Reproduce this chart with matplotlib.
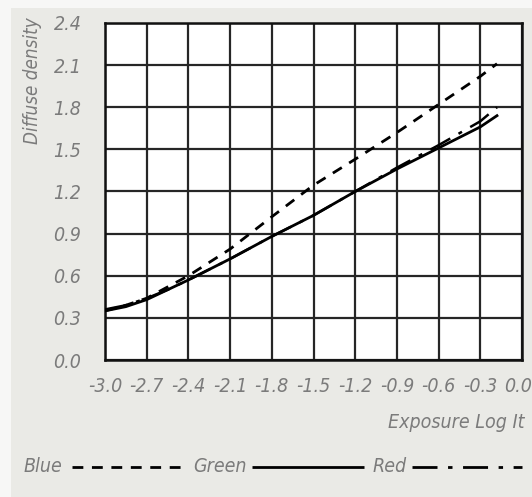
import matplotlib
matplotlib.use("Agg")
import matplotlib.pyplot as plt
import matplotlib.transforms as mtransforms
from matplotlib.lines import Line2D
from matplotlib.patches import Rectangle

# ---- data ----
exposure = [-3.0, -2.85, -2.7, -2.55, -2.4, -2.1, -1.8, -1.5, -1.2, -0.9, -0.6, -0.3, -0.18]
blue = [0.35, 0.39, 0.44, 0.52, 0.60, 0.79, 1.02, 1.245, 1.43, 1.62, 1.82, 2.02, 2.11]
green = [0.35, 0.38, 0.43, 0.50, 0.57, 0.72, 0.88, 1.03, 1.20, 1.36, 1.51, 1.66, 1.74]
red = [0.36, 0.39, 0.44, 0.50, 0.57, 0.72, 0.88, 1.03, 1.20, 1.37, 1.53, 1.70, 1.80]
series_names = ["Blue", "Green", "Red"]
x_ticks = [-3.0, -2.7, -2.4, -2.1, -1.8, -1.5, -1.2, -0.9, -0.6, -0.3, 0.0]
y_ticks = [0.0, 0.3, 0.6, 0.9, 1.2, 1.5, 1.8, 2.1, 2.4]
x_label = "Exposure Log It"
y_label = "Diffuse density"

TXT = "#7b7b7b"
FS = 14
FONT = ["DejaVu Sans"]
STRETCH = "condensed"

W, H = 532, 497
fig = plt.figure(figsize=(W / 100, H / 100), dpi=100)
fig.patch.set_facecolor("#f7f7f6")
fig.patches.append(Rectangle((11 / W, 0), 1, 1 - 8 / H, transform=fig.transFigure,
                             facecolor="#eaeae6", edgecolor="none", zorder=-5))

ax = fig.add_axes([105 / W, 1 - 360 / H, 417 / W, 337 / H])
ax.set_zorder(1)
ax.set_facecolor("white")
ax.set_xlim(-3.0, 0.0)
ax.set_ylim(0.0, 2.4)
ax.set_xticks(x_ticks)
ax.set_yticks(y_ticks)
ax.set_xticklabels([f"{v:.1f}" for v in x_ticks])
ax.set_yticklabels([f"{v:.1f}" for v in y_ticks])
ax.tick_params(length=0, pad=12, labelsize=FS, labelcolor=TXT)
ax.tick_params(axis="y", pad=17)
for lab in ax.get_xticklabels() + ax.get_yticklabels():
    lab.set_family(FONT)
    lab.set_style("italic")
    lab.set_stretch(STRETCH)
shift = mtransforms.ScaledTranslation(-4 / 100, 0, fig.dpi_scale_trans)
last = ax.get_xticklabels()[-1]
last.set_transform(last.get_transform() + shift)
ax.grid(True, color="#262626", linewidth=1.6)
ax.set_axisbelow(True)
for s in ax.spines.values():
    s.set_color("#111111")
    s.set_linewidth(1.8)

blue_dash = (3.8, 3.1)
red_dash = (9.0, 3.8, 1.6, 3.8)
ax.plot(exposure, blue, color="black", lw=2.0, dashes=blue_dash, zorder=3)
ax.plot(exposure, green, color="black", lw=2.0, zorder=3)
ax.plot(exposure, red, color="black", lw=1.8, dashes=red_dash, zorder=3)

fig.text(524 / W, 1 - 422 / H, x_label, ha="right", va="center", fontsize=FS,
         color=TXT, family=FONT, style="italic", stretch=STRETCH)
fig.text(32 / W, 1 - 17 / H, y_label, ha="center", va="top", rotation=90,
         fontsize=13.5, color=TXT, family=FONT, style="italic", stretch=STRETCH)

ly = 1 - 467 / H
legend_items = [
    (series_names[0], 62, 72, 183, dict(dashes=(3.9, 3.1))),
    (series_names[1], 247, 252, 364, dict()),
    (series_names[2], 407, 412, 522, dict(dashes=red_dash)),
]
for name, tx, x0, x1, style in legend_items:
    fig.text(tx / W, ly, name, ha="right", va="center", fontsize=FS, color=TXT,
             family=FONT, style="italic", stretch=STRETCH)
    fig.lines.append(Line2D([x0 / W, x1 / W], [ly, ly], transform=fig.transFigure,
                            color="black", lw=2.0, solid_capstyle="butt",
                            dash_capstyle="butt", **style))

fig.savefig("out.png", dpi=100, facecolor=fig.get_facecolor())
